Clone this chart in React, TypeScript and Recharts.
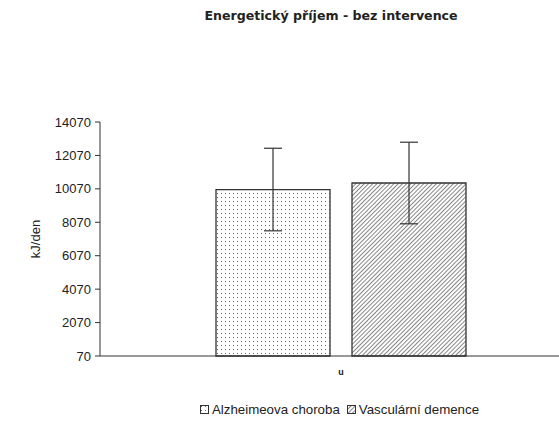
import { BarChart, Bar, XAxis, YAxis, ErrorBar, Legend } from 'recharts';

// --- Data ---

const categories = ['u'];
const alzheimer = [10030];
const alzheimerErr = [2470];
const vascular = [10420];
const vascularErr = [2440];
const yTicks = [70, 2070, 4070, 6070, 8070, 10070, 12070, 14070];

const data = categories.map((name, i) => ({
  name,
  alz: alzheimer[i],
  alzErr: alzheimerErr[i],
  vas: vascular[i],
  vasErr: vascularErr[i],
}));

const FONT = '"Liberation Sans", Arial, sans-serif';
const INK = '#333333';

const LegendContent = () => (
  <div
    style={{
      display: 'flex',
      justifyContent: 'center',
      alignItems: 'center',
      gap: 7,
      fontFamily: FONT,
      fontSize: 13.3,
      color: '#222',
      paddingLeft: 120,
    }}
  >
    <svg width={9} height={9}>
      <rect x={0.5} y={0.5} width={8} height={8} fill="url(#dots)" stroke={INK} />
    </svg>
    <span style={{ marginLeft: -4 }}>Alzheimeova choroba</span>
    <svg width={9} height={9}>
      <rect x={0.5} y={0.5} width={8} height={8} fill="url(#hatch)" stroke={INK} />
    </svg>
    <span style={{ marginLeft: -4 }}>Vasculární demence</span>
  </div>
);

export default function App() {
  return (
    <div style={{ position: 'absolute', left: 0, top: 0, width: 559, height: 424, background: '#fff' }}>
      <div
        style={{
          position: 'absolute',
          top: 8,
          left: 0,
          width: 662,
          textAlign: 'center',
          fontFamily: '"DejaVu Sans", sans-serif',
          fontWeight: 'bold',
          fontSize: 12.6,
          color: '#222',
        }}
      >
        Energetický příjem - bez intervence
      </div>
      <BarChart
        width={559}
        height={424}
        data={data}
        margin={{ top: 122, right: 0, left: 0, bottom: 6 }}
        barCategoryGap={93}
        barGap={22}
      >
        <defs>
          <pattern id="dots" width={4} height={4} patternUnits="userSpaceOnUse">
            <rect width={4} height={4} fill="#fff" />
            <rect x={1} y={1} width={1} height={1} fill="#666" />
          </pattern>
          <pattern
            id="hatch"
            width={3}
            height={3}
            patternUnits="userSpaceOnUse"
            patternTransform="rotate(45)"
          >
            <rect width={3} height={3} fill="#fff" />
            <line x1={0} y1={0} x2={0} y2={3} stroke="#222" strokeWidth={1.1} />
          </pattern>
        </defs>
        <XAxis
          dataKey="name"
          padding={{ left: 23, right: 0 }}
          axisLine={{ stroke: INK, strokeWidth: 1 }}
          tickLine={false}
          height={32}
          tickMargin={7}
          tick={{ fill: '#222', fontSize: 9, fontWeight: 'bold', fontFamily: FONT }}
        />
        <YAxis
          width={100}
          domain={[70, 14070]}
          ticks={yTicks}
          interval={0}
          axisLine={{ stroke: INK, strokeWidth: 1 }}
          tickLine={{ stroke: INK }}
          tickSize={5}
          tickMargin={4}
          tick={{ fill: '#222', fontSize: 13, fontFamily: FONT }}
          label={{
            value: 'kJ/den',
            angle: -90,
            position: 'insideLeft',
            offset: 35,
            style: { fill: '#222', fontSize: 13, fontFamily: FONT, textAnchor: 'middle' },
          }}
        />
        <Legend
          verticalAlign="bottom"
          height={30}
          wrapperStyle={{ top: 402 }}
          content={<LegendContent />}
        />
        <Bar dataKey="alz" name="Alzheimeova choroba" fill="url(#dots)" stroke={INK} strokeWidth={1.3} isAnimationActive={false}>
          <ErrorBar dataKey="alzErr" width={9} stroke={INK} strokeWidth={1.2} />
        </Bar>
        <Bar dataKey="vas" name="Vasculární demence" fill="url(#hatch)" stroke={INK} strokeWidth={1.3} isAnimationActive={false}>
          <ErrorBar dataKey="vasErr" width={9} stroke={INK} strokeWidth={1.2} />
        </Bar>
      </BarChart>
    </div>
  );
}
